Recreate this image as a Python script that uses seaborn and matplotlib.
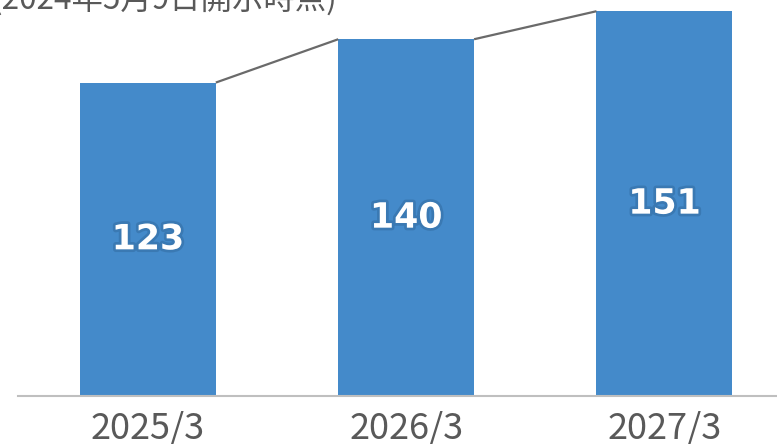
import matplotlib
matplotlib.use("Agg")
import matplotlib.pyplot as plt
import matplotlib.patheffects as pe
import seaborn as sns
import pandas as pd

categories = ["2025/3", "2026/3", "2027/3"]
values = [123, 140, 151]
note_text = "(2024年5月9日開示時点)"

sns.set_style("white")
plt.rcParams['font.family'] = ['Noto Sans CJK JP', 'DejaVu Sans']

W, H = 777, 444
fig = plt.figure(figsize=(W / 100, H / 100), dpi=100)
ax = fig.add_axes([18 / W, 48 / H, 759 / W, 396 / H])

df = pd.DataFrame({"cat": categories, "val": values})
bar_w = 0.526
sns.barplot(data=df, x="cat", y="val", color="#448ACA", saturation=1,
            width=bar_w, ax=ax, edgecolor="none")

# connector lines between bar tops
for i in range(len(values) - 1):
    ax.plot([i + bar_w / 2, i + 1 - bar_w / 2], [values[i], values[i + 1]],
            color="#6a6a6a", lw=1.6, solid_capstyle="butt", zorder=3)

# value labels
for i, v in enumerate(values):
    ax.text(i, v / 2, str(v), ha="center", va="center", fontsize=25,
            fontweight="bold", color="white", family="DejaVu Sans",
            path_effects=[pe.withStroke(linewidth=4, foreground="#2f6699", alpha=0.45)])

ax.set_xlim(-0.503, 2.436)
ax.set_ylim(0, 155.4)
ax.set_xlabel("")
ax.set_ylabel("")
ax.set_yticks([])
ax.tick_params(axis="x", length=0, pad=11, labelsize=26, labelcolor="#595959")
for s in ["top", "right", "left"]:
    ax.spines[s].set_visible(False)
ax.spines["bottom"].set_color("#BFBFBF")
ax.spines["bottom"].set_linewidth(1.5)

fig.text(337 / W, 1 - 8.5 / H, note_text, ha="right", va="baseline",
         fontsize=22.6, color="#595959")

fig.savefig("out.png", dpi=100)
